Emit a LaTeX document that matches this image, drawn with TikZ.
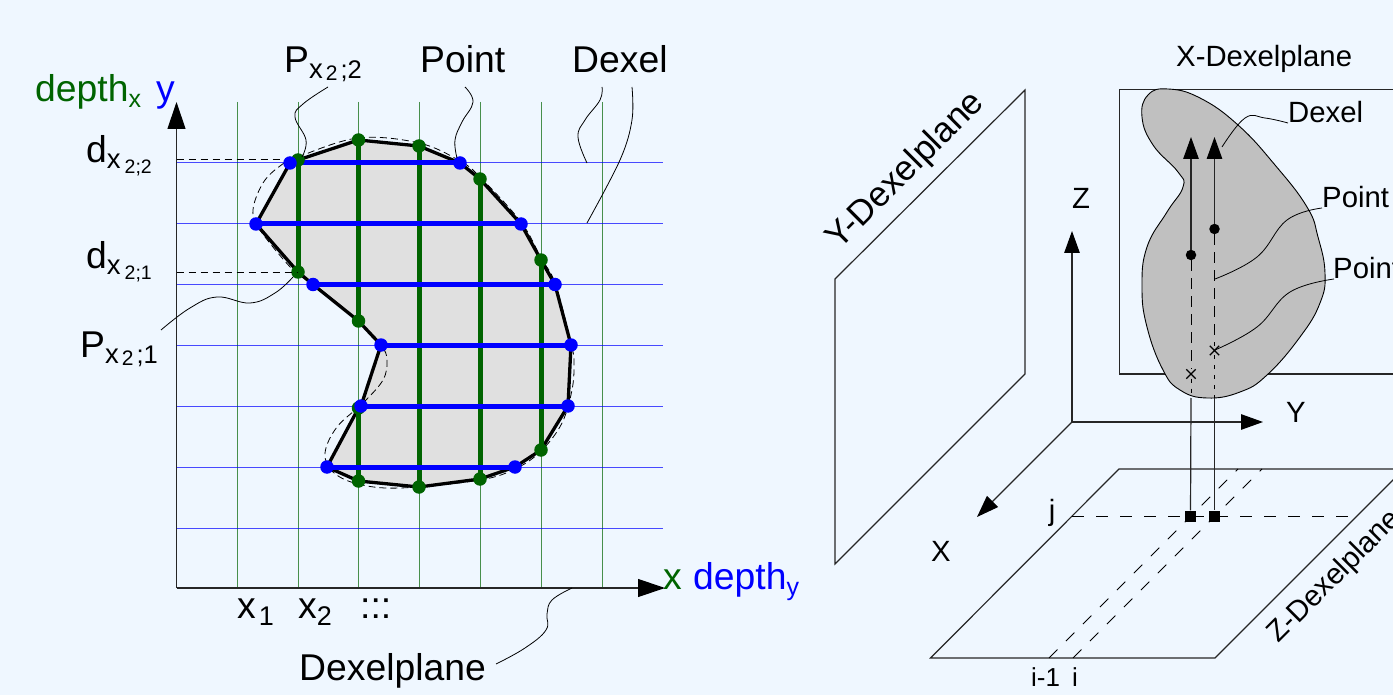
\documentclass[tikz,border=0pt]{standalone}
\usepackage{fontspec}
\setmainfont{Liberation Sans}
\usetikzlibrary{arrows.meta,shapes.misc}
\definecolor{bgc}{HTML}{EFF7FF}
\definecolor{dgreen}{HTML}{006400}
\definecolor{lightgrey}{HTML}{E0E0E0}
\definecolor{midgrey}{HTML}{C0C0C0}
\newcommand{\fs}[1]{\fontsize{#1}{#1}\selectfont}
\newcommand{\subd}[2]{#1{\fs{27.5}\raisebox{-6pt}{x}}\hspace{4pt}{\fs{19.5}\raisebox{-11pt}{#2}}}
\newcommand{\subp}[2]{#1{\fs{27.5}\raisebox{-6pt}{x}}\hspace{3pt}{\fs{21}\raisebox{-8pt}{2}}\hspace{3pt}{\fs{25.5}\raisebox{-6pt}{;#2}}}
\tikzset{
  gridg/.style={dgreen,line width=1pt,opacity=.7},
  gridb/.style={blue,line width=1pt,opacity=.7},
  thickg/.style={dgreen,line width=5pt},
  thickb/.style={blue,line width=5pt},
  gdot/.style={circle,fill=dgreen,inner sep=0pt,minimum size=13.5pt},
  bdot/.style={circle,fill=blue,inner sep=0pt,minimum size=13.5pt},
  kdot/.style={circle,fill=black,inner sep=0pt,minimum size=10.5pt},
  sq/.style={rectangle,fill=black,inner sep=0pt,minimum size=11pt},
  cross/.style={cross out,draw=black,line width=1.3pt,inner sep=0pt,minimum size=8pt},
  lead/.style={black,line width=.8pt},
  edge/.style={black!85,line width=1.2pt},
  bigt/.style={font=\fs{37.3},inner sep=0pt,anchor=base west},
  midt/.style={font=\fs{29.3},inner sep=0pt},
  tip/.style={-{Triangle[length=27pt,width=18pt,fill=black,color=black]}},
  tips/.style={-{Triangle[length=22pt,width=15.5pt,fill=black,color=black]}},
  curvedash/.style={black,line width=.8pt,dash pattern=on 7pt off 4pt},
  longdash/.style={black,line width=.8pt,dash pattern=on 12pt off 12pt},
}
\begin{document}
\begin{tikzpicture}[x=1pt,y=-1pt]
\useasboundingbox (0,0) rectangle (1393,695);
\clip (0,0) rectangle (1393,695);
\fill[bgc] (0,0) rectangle (1393,695);
% ---------- left figure
\foreach \n/\x/\y in {g1/298/160,g2/358.5/140,g3/419/146,g4/480/179,g5/541/260,g6/298/272,g7/358.5/321,g8/358.5/408,g9/358.5/481,g10/419/487,g11/480/479,g12/541/450}
  \coordinate (\n) at (\x,\y);
\foreach \n/\x/\y in {b1/290/163,b2/460/163,b3/256/224,b4/521/224,b5/313/284.5,b6/555/284.5,b7/381/345,b8/571/345,b9/361/406,b10/568/406,b11/327/467,b12/515/467}
  \coordinate (\n) at (\x,\y);
\fill[lightgrey] (b1) -- (g1) -- (g2) -- (g3) -- (b2) -- (g4) -- (b4) -- (g5) -- (b6) -- (b8) -- (b10) -- (g12) -- (b12) -- (g11) -- (g10) -- (g9) -- (b11) -- (g8) -- (b9) -- (b7) -- (g7) -- (b5) -- (g6) -- (b3) -- cycle;
\foreach \x in {237,298,358.5,419,480,541,602} \draw[gridg] (\x,102) -- (\x,588);
\foreach \y in {163,224,284.5,345,406,467,528} \draw[gridb] (176.5,\y) -- (663,\y);
\draw[curvedash] plot[smooth cycle,tension=.6] coordinates {(298,157)(358,138)(419,143)(460,161)(480,177)(521,222)(541,258)(555,283)(571,343)(574,363)(572,390)(562,423)(542,450)(517,468)(480,480)(400,488)(358,484)(333,472)(325,453)(337,427)(363,403)(383,380)(387,360)(381,345)(358,321)(313,284)(293,270)(260,230)(253,210)(263,183)(280,166)};
\draw[black,line width=3.3pt,line join=round] (b1) -- (g1) -- (g2) -- (g3) -- (b2) -- (g4) -- (b4) -- (g5) -- (b6) -- (b8) -- (b10) -- (g12) -- (b12) -- (g11) -- (g10) -- (g9) -- (b11) -- (g8) -- (b9) -- (b7) -- (g7) -- (b5) -- (g6) -- (b3) -- cycle;
\draw[thickg] (g1) -- (g6);
\draw[thickg] (g2) -- (g7);
\draw[thickg] (g8) -- (g9);
\draw[thickg] (g3) -- (g10);
\draw[thickg] (g4) -- (g11);
\draw[thickg] (g5) -- (g12);
\draw[thickb] (b1) -- (b2);
\draw[thickb] (b3) -- (b4);
\draw[thickb] (b5) -- (b6);
\draw[thickb] (b7) -- (b8);
\draw[thickb] (b9) -- (b10);
\draw[thickb] (b11) -- (b12);
\foreach \n in {g1,g2,g3,g4,g5,g6,g7,g8,g9,g10,g11,g12} \node[gdot] at (\n) {};
\foreach \n in {b1,b2,b3,b4,b5,b6,b7,b8,b9,b10,b11,b12} \node[bdot] at (\n) {};
% axes
\coordinate (o1) at (176.5,588);
\coordinate (ytop) at (176.5,102);
\coordinate (xend) at (665,588);
\draw[edge,tip] (o1) -- (ytop);
\draw[edge,tip] (o1) -- (xend);
\coordinate (d2a) at (176.5,159.5); \coordinate (d2b) at (284,159.5);
\coordinate (d1a) at (176.5,272);
\draw[black,line width=.8pt,dash pattern=on 7pt off 5pt] (d2a) -- (d2b);
\draw[black,line width=.8pt,dash pattern=on 7pt off 5pt] (d1a) -- (g6);
% leaders
\draw[lead] plot[smooth,tension=.7] coordinates {(328,87)(303,104)(295,117)(306,140)(302,157)};
\draw[lead] plot[smooth,tension=.7] coordinates {(161,330)(190,308)(217,297)(250,303)(275,293)(293,277)};
\draw[lead] plot[smooth,tension=.7] coordinates {(465,87)(473,102)(462,122)(455,140)(457,158)};
\draw[lead] plot[smooth,tension=.7] coordinates {(602,87)(600,100)(585,120)(578,137)(587,163)};
\draw[lead] plot[smooth,tension=.6] coordinates {(632,87)(632,120)(620,160)(587,223)};
\draw[lead] plot[smooth,tension=.7] coordinates {(572,588)(552,600)(547,614)(546,630)(525,648)(496,664)};
% labels
\node[bigt] (lp2) at (284,73) {\subp{P}{2}};
\node[bigt] (lpt) at (420,73) {Point};
\node[bigt] (ldx) at (572,73) {Dexel};
\node[bigt,text=dgreen] (ldepx) at (35,102) {depth{\fs{25}\raisebox{-6pt}{x}}};
\node[bigt,text=blue] (ly) at (156,102) {y};
\node[bigt] (ld2) at (86,163) {\subd{d}{2;2}};
\node[bigt] (ld1) at (86,269) {\subd{d}{2;1}};
\node[bigt] (lp1) at (80,357) {\subp{P}{1}};
\node[bigt,text=dgreen] (lx) at (663,589) {x};
\node[bigt,text=blue] (ldepy) at (693,589) {depth{\fs{25}\raisebox{-6pt}{y}}};
\node[bigt] (lx1) at (237,618) {x\hspace{3pt}{\fs{27}\raisebox{-7pt}{1}}};
\node[bigt] (lx2) at (298,618) {x{\fs{27}\raisebox{-7pt}{2}}};
\node[bigt] (ldots) at (360,618) {:::};
\node[bigt] (ldp) at (299,680) {Dexelplane};
% ---------- right figure
\coordinate (ya) at (835,279); \coordinate (yb) at (1025,90); \coordinate (yc) at (1025,374); \coordinate (yd) at (835,564);
\draw[edge] (ya) -- (yb) -- (yc) -- (yd) -- cycle;
\node[midt,rotate=45,font=\fs{35}] (lyp) at (906,171) {Y-Dexelplane};
\draw[edge] (1500,89.5) -- (1119.5,89.5) -- (1119.5,374) -- (1500,374);
\filldraw[fill=midgrey,draw=black,line width=.9pt] plot[smooth cycle,tension=.75] coordinates {(1168,89)(1200,98)(1238,125)(1275,165)(1307,207)(1318,237)(1325,273)(1320,303)(1300,337)(1267,375)(1240,392)(1207,398)(1180,390)(1163,370)(1147,327)(1142,287)(1147,247)(1167,212)(1183,187)(1178,172)(1153,145)(1142,117)(1148,95)};
% z plane
\coordinate (za) at (1119,469); \coordinate (zb) at (1404,469); \coordinate (zc) at (1215,658); \coordinate (zd) at (930.5,658);
\draw[edge] (za) -- (zb) -- (zc) -- (zd) -- cycle;
\draw[longdash] (1049,658) -- (1238,469);
\draw[longdash] (1073,658) -- (1262,469);
\draw[longdash] (1072,516.5) -- (1352,516.5);
% axes
\coordinate (o2) at (1072,422);
\coordinate (zt) at (1072,231); \coordinate (yt) at (1263,422); \coordinate (xt) at (977,517);
\draw[edge,tips] (o2) -- (zt);
\draw[edge,tips] (o2) -- (yt);
\draw[edge,tips] (o2) -- (xt);
% dexels
\node[kdot] (k1) at (1191,255) {};
\node[kdot] (k2) at (1214.5,229) {};
\node[cross] (c1) at (1191,374) {};
\node[cross] (c2) at (1214.5,350.5) {};
\node[sq] (s1) at (1190.5,516) {};
\node[sq] (s2) at (1214.5,516) {};
\coordinate (t1) at (1191,137); \coordinate (t2) at (1214.5,137);
\coordinate (e1) at (1191,398); \coordinate (e2) at (1214.5,398);
\draw[edge,tips] (k1) -- (t1);
\draw[edge,tips] (k2) -- (t2);
\draw[black,line width=.8pt,dash pattern=on 11pt off 7pt] (k1) -- (c1);
\draw[black,line width=.8pt,dash pattern=on 11pt off 7pt] (k2) -- (c2);
\draw[black,line width=.8pt,dash pattern=on 4pt off 6pt] (c1) -- (e1);
\draw[black,line width=.8pt,dash pattern=on 4pt off 6pt] (c2) -- (e2);
\draw[edge] (e1) -- (s1);
\draw[edge] (e2) -- (s2);
% leaders
\draw[lead] plot[smooth,tension=.7] coordinates {(1288,123)(1265,118)(1245,118)(1222,147)};
\draw[lead] plot[smooth,tension=.7] coordinates {(1322,208)(1287,220)(1257,257)(1215,279)};
\draw[lead] plot[smooth,tension=.7] coordinates {(1334,279)(1290,292)(1257,327)(1215,350)};
% labels
\node[midt,anchor=base west] (lxp) at (1176,67) {X-Dexelplane};
\node[midt,anchor=base west] (rdx) at (1288,123) {Dexel};
\node[midt,anchor=base west] (rp1) at (1322,208) {Point};
\node[midt,anchor=base west] (rp2) at (1333,279) {Point};
\node[midt,anchor=base] (lz) at (1081,209) {Z};
\node[midt,anchor=base] (lyy) at (1296,422) {Y};
\node[midt,anchor=base] (lxx) at (941,561) {X};
\node[midt,anchor=base] (lj) at (1052,520) {j};
\node[midt,anchor=base west,font=\fs{26}] (li1) at (1031,686) {i-1};
\node[midt,anchor=base west,font=\fs{26}] (li) at (1072,686) {i};
\node[midt,rotate=45] (lzp) at (1335,577) {Z-Dexelplane};
\end{tikzpicture}
\end{document}
